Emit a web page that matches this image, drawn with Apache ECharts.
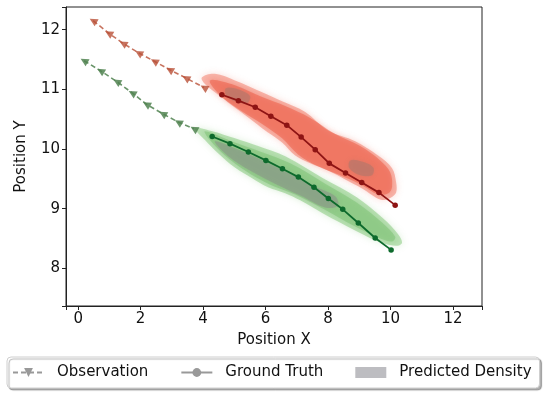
<!DOCTYPE html>
<html><head><meta charset="utf-8">
<script src="https://cdn.jsdelivr.net/npm/echarts@6/dist/echarts.min.js"></script>
<style>html,body{margin:0;padding:0;background:#fff}#c{width:550px;height:395px}</style>
</head><body><div id="c"></div>
<script>
const xTicks = [0, 2, 4, 6, 8, 10, 12];
const yTicks = [8, 9, 10, 11, 12];

const obsRed = [[0.48,12.15],[0.98,11.94],[1.44,11.77],[1.94,11.61],[2.44,11.47],[2.93,11.33],[3.45,11.19],[4.03,11.03]];
const obsGreen = [[0.19,11.48],[0.72,11.31],[1.24,11.13],[1.73,10.94],[2.19,10.75],[2.71,10.59],[3.21,10.45],[3.71,10.34]];
const gtRed = [[4.60,10.91],[5.13,10.81],[5.67,10.70],[6.17,10.55],[6.68,10.40],[7.14,10.20],[7.59,9.99],[8.04,9.76],[8.56,9.60],[9.08,9.44],[9.63,9.27],[10.15,9.06]];
const gtGreen = [[4.29,10.21],[4.86,10.09],[5.45,9.95],[6.01,9.81],[6.54,9.67],[7.05,9.53],[7.55,9.36],[8.01,9.17],[8.47,8.99],[8.97,8.76],[9.51,8.51],[10.02,8.31]];

const redOuter = [[3.96,11.20],[4.38,11.26],[5.02,11.15],[5.89,10.95],[6.53,10.80],[7.27,10.62],[8.00,10.31],[8.87,10.13],[9.60,9.89],[10.05,9.68],[10.18,9.44],[10.18,9.27],[10.02,9.19],[9.70,9.15],[9.09,9.34],[8.55,9.49],[8.00,9.64],[7.43,9.76],[6.95,9.89],[6.53,10.11],[5.89,10.35],[5.34,10.57],[4.80,10.78],[4.38,10.95],[4.06,11.09]];
const redMid = [[4.22,11.15],[5.02,11.07],[5.89,10.87],[6.63,10.72],[7.43,10.52],[8.23,10.25],[9.03,10.05],[9.67,9.81],[9.99,9.61],[10.05,9.37],[9.93,9.26],[9.61,9.24],[9.03,9.41],[8.39,9.56],[7.68,9.71],[7.04,9.91],[6.53,10.18],[5.89,10.42],[5.25,10.63],[4.61,10.87]];
const redCoreA = [[4.73,11.02],[5.12,11.00],[5.50,10.89],[5.41,10.77],[5.02,10.80],[4.73,10.90]];
const redCoreB = [[8.71,9.81],[9.09,9.79],[9.45,9.69],[9.41,9.56],[9.03,9.56],[8.68,9.68]];

const greenOuter = [[3.74,10.35],[4.29,10.30],[5.02,10.18],[5.76,10.05],[6.63,9.88],[7.84,9.51],[8.93,9.19],[9.76,8.84],[10.25,8.57],[10.37,8.43],[10.22,8.38],[9.76,8.42],[8.93,8.62],[7.84,8.92],[7.11,9.14],[6.63,9.26],[6.08,9.36],[5.57,9.51],[5.02,9.69],[4.48,9.93],[4.06,10.15]];
const greenMid = [[4.06,10.30],[5.02,10.11],[5.82,9.96],[6.79,9.76],[7.91,9.42],[8.93,9.10],[9.73,8.77],[10.15,8.53],[10.05,8.45],[9.67,8.50],[8.87,8.70],[7.84,9.00],[6.95,9.24],[6.08,9.42],[5.34,9.64],[4.70,9.89],[4.22,10.15]];
const greenCore = [[4.38,10.13],[5.18,9.98],[5.98,9.79],[6.78,9.59],[7.59,9.37],[8.23,9.21],[8.32,9.05],[7.91,9.02],[7.11,9.22],[6.30,9.42],[5.50,9.64],[4.80,9.88]];

const FONT = 'DejaVu Sans';

function poly(pts, fill, blur) {
  return {
    type: 'custom', data: pts, encode: { x: 0, y: 1 }, silent: true, clip: true, z: 1,
    renderItem: (params, api) => {
      if (params.dataIndex !== 0) return null;
      return {
        type: 'polygon',
        shape: { points: pts.map(p => api.coord(p)), smooth: 0.35 },
        style: { fill: fill, shadowBlur: blur, shadowColor: fill }
      };
    }
  };
}

function obsLine(data, color) {
  return {
    type: 'line', data: data, z: 3, silent: true,
    symbol: 'triangle', symbolSize: 8, symbolRotate: 60,
    lineStyle: { color: color, width: 1.6, type: [5, 3] },
    itemStyle: { color: color }
  };
}
function gtLine(data, color) {
  return {
    type: 'line', data: data, z: 4, silent: true,
    symbol: 'circle', symbolSize: 5.5,
    lineStyle: { color: color, width: 1.8 },
    itemStyle: { color: color }
  };
}

const chart = echarts.init(document.getElementById('c'), null, { renderer: 'canvas' });
chart.setOption({
  animation: false,
  backgroundColor: '#fff',
  textStyle: { fontFamily: FONT },
  grid: { left: 66, right: 68, top: 7, bottom: 89, show: true, borderColor: '#222', borderWidth: 1 },
  xAxis: {
    type: 'value', min: -0.39, max: 12.93, splitNumber: 6,
    name: 'Position X', nameLocation: 'middle', nameGap: 27,
    nameTextStyle: { fontFamily: FONT, fontSize: 15, color: '#111' },
    axisLine: { show: true, onZero: false, lineStyle: { color: '#222', width: 1 } },
    axisTick: { show: true, inside: false, length: 4, lineStyle: { color: '#222', width: 1 } },
    axisLabel: { fontFamily: FONT, fontSize: 15, color: '#111', margin: 6, customValues: xTicks },
    splitLine: { show: false }
  },
  yAxis: {
    type: 'value', min: 7.37, max: 12.38, splitNumber: 5,
    name: 'Position Y', nameLocation: 'middle', nameGap: 37,
    nameTextStyle: { fontFamily: FONT, fontSize: 15, color: '#111' },
    axisLine: { show: true, onZero: false, lineStyle: { color: '#222', width: 1 } },
    axisTick: { show: true, inside: false, length: 4, lineStyle: { color: '#222', width: 1 } },
    axisLabel: { fontFamily: FONT, fontSize: 15, color: '#111', margin: 6, customValues: yTicks },
    splitLine: { show: false }
  },
  legend: {
    left: 7, top: 357, orient: 'horizontal',
    padding: [8, 8, 8, 5],
    itemWidth: 31, itemHeight: 11, itemGap: 32,
    backgroundColor: '#fff', borderColor: '#cfcfcf', borderWidth: 1, borderRadius: 4,
    shadowColor: 'rgba(0,0,0,0.3)', shadowOffsetX: 2, shadowOffsetY: 2, shadowBlur: 1,
    textStyle: { fontFamily: FONT, fontSize: 15, color: '#111', padding: [0, 0, 0, 8] },
    selectedMode: false,
    data: [{ name: 'Observation' }, { name: 'Ground Truth' }, { name: 'Predicted Density', icon: 'rect' }]
  },
  series: [
    poly(redOuter, 'rgba(242,120,100,0.5)', 7),
    poly(redMid, 'rgba(236,80,55,0.45)', 5),
    poly(redCoreA, 'rgba(150,120,110,0.4)', 5),
    poly(redCoreB, 'rgba(150,120,110,0.4)', 5),
    poly(greenOuter, 'rgba(130,200,120,0.5)', 7),
    poly(greenMid, 'rgba(110,185,100,0.4)', 5),
    poly(greenCore, 'rgba(135,135,135,0.45)', 5),
    obsLine(obsRed, 'rgba(185,80,55,0.8)'),
    obsLine(obsGreen, 'rgba(80,130,80,0.85)'),
    gtLine(gtRed, '#8e1414'),
    gtLine(gtGreen, '#0d6a2c'),
    { name: 'Observation', type: 'line', data: [], symbol: 'triangle', symbolRotate: 180, symbolSize: 7,
      lineStyle: { color: '#999', width: 1.6, type: [5, 3] }, itemStyle: { color: '#999' } },
    { name: 'Ground Truth', type: 'line', data: [], symbol: 'circle', symbolSize: 6,
      lineStyle: { color: '#999', width: 1.8 }, itemStyle: { color: '#999' } },
    { name: 'Predicted Density', type: 'custom', data: [], renderItem: () => null,
      itemStyle: { color: '#bdbdc1' } }
  ]
});
</script>
</body></html>
